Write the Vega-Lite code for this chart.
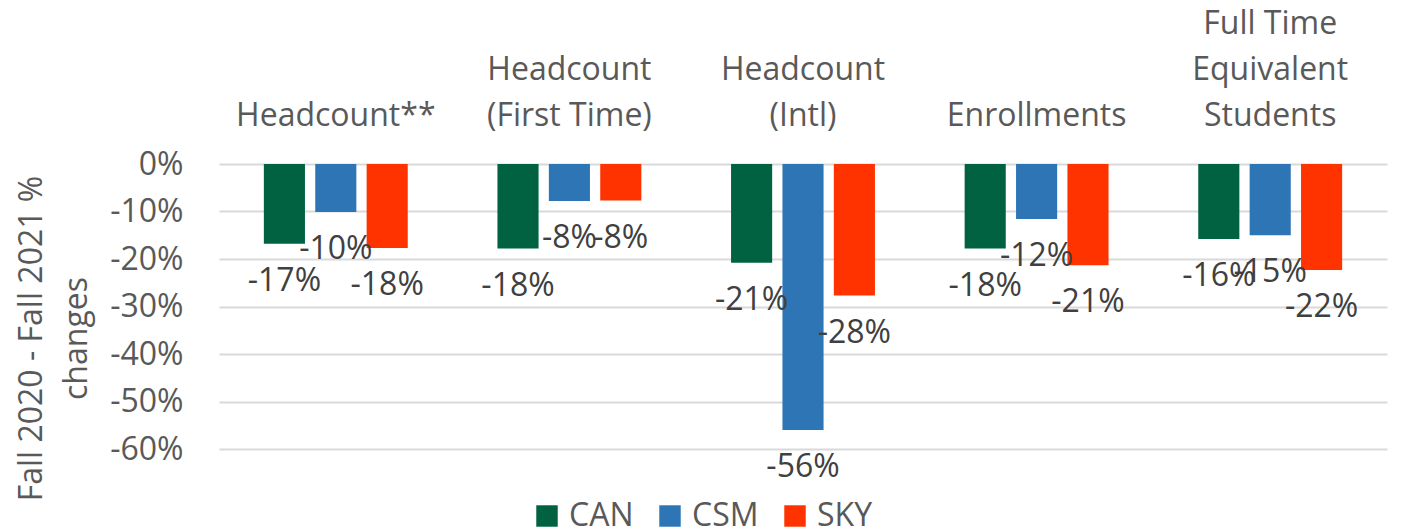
{
  "$schema": "https://vega.github.io/schema/vega-lite/v6.json",
  "width": 1168,
  "height": 285,
  "autosize": {"type": "none"},
  "padding": {"left": 219, "top": 164, "right": 14, "bottom": 82},
  "background": "white",
  "config": {
    "font": "Open Sans",
    "view": {"stroke": null},
    "locale": {"number": {"decimal": ".", "thousands": ",", "grouping": [3], "currency": ["$", ""], "minus": "-"}}
  },
  "data": {
    "values": [
      {"cat": "Headcount**", "campus": "CAN", "value": -0.168},
      {"cat": "Headcount**", "campus": "CSM", "value": -0.101},
      {"cat": "Headcount**", "campus": "SKY", "value": -0.177},
      {"cat": "Headcount|(First Time)", "campus": "CAN", "value": -0.178},
      {"cat": "Headcount|(First Time)", "campus": "CSM", "value": -0.078},
      {"cat": "Headcount|(First Time)", "campus": "SKY", "value": -0.077},
      {"cat": "Headcount|(Intl)", "campus": "CAN", "value": -0.208},
      {"cat": "Headcount|(Intl)", "campus": "CSM", "value": -0.56},
      {"cat": "Headcount|(Intl)", "campus": "SKY", "value": -0.277},
      {"cat": "Enrollments", "campus": "CAN", "value": -0.178},
      {"cat": "Enrollments", "campus": "CSM", "value": -0.116},
      {"cat": "Enrollments", "campus": "SKY", "value": -0.213},
      {"cat": "Full Time|Equivalent|Students", "campus": "CAN", "value": -0.158},
      {"cat": "Full Time|Equivalent|Students", "campus": "CSM", "value": -0.15},
      {"cat": "Full Time|Equivalent|Students", "campus": "SKY", "value": -0.223}
    ]
  },
  "encoding": {
    "x": {
      "field": "cat",
      "type": "nominal",
      "sort": null,
      "scale": {"paddingInner": 0.34, "paddingOuter": 0.17},
      "axis": {
        "orient": "top",
        "title": null,
        "domain": false,
        "ticks": false,
        "labelAngle": 0,
        "labelExpr": "split(datum.label, '|')",
        "labelFontSize": 32,
        "labelColor": "#595959",
        "labelLineHeight": 46,
        "labelPadding": {
          "condition": [
            {"test": "length(split(datum.value, '|')) == 1", "value": 39},
            {"test": "length(split(datum.value, '|')) == 2", "value": 85}
          ],
          "value": 131
        },
        "labelBaseline": "alphabetic",
        "labelLimit": 0
      }
    },
    "xOffset": {
      "field": "campus",
      "type": "nominal",
      "scale": {"paddingInner": 0.2, "paddingOuter": 0.1}
    },
    "y": {
      "field": "value",
      "type": "quantitative",
      "scale": {"domain": [-0.6, 0], "nice": false},
      "axis": {
        "format": ".0%",
        "values": [0, -0.1, -0.2, -0.3, -0.4, -0.5, -0.6],
        "title": ["Fall 2020 - Fall 2021 %", "changes"],
        "titleFontSize": 32,
        "titleFontWeight": "normal",
        "titleColor": "#595959",
        "titleLineHeight": 45,
        "titleAngle": -90,
        "titleAlign": "center",
        "titleBaseline": "middle",
        "titleX": -188,
        "titleY": 174,
        "labelFontSize": 32,
        "labelColor": "#595959",
        "labelPadding": 36,
        "domain": false,
        "ticks": false,
        "grid": true,
        "gridColor": "#d9d9d9",
        "gridWidth": 2
      }
    }
  },
  "layer": [
    {
      "mark": {"type": "bar"},
      "encoding": {
        "color": {
          "field": "campus",
          "type": "nominal",
          "scale": {"domain": ["CAN", "CSM", "SKY"], "range": ["#006241", "#2E75B6", "#FF3300"]},
          "legend": {
            "orient": "none",
            "direction": "horizontal",
            "legendX": 312,
            "legendY": 336,
            "title": null,
            "symbolType": "square",
            "symbolSize": 460,
            "symbolStrokeWidth": 0,
            "labelFontSize": 32,
            "labelColor": "#595959",
            "labelOffset": 6,
            "columnPadding": 20,
            "padding": 0
          }
        }
      }
    },
    {
      "mark": {"type": "text", "baseline": "top", "dy": 22, "fontSize": 32, "color": "#404040"},
      "encoding": {
        "text": {"field": "value", "type": "quantitative", "format": ".0%"}
      }
    }
  ]
}
